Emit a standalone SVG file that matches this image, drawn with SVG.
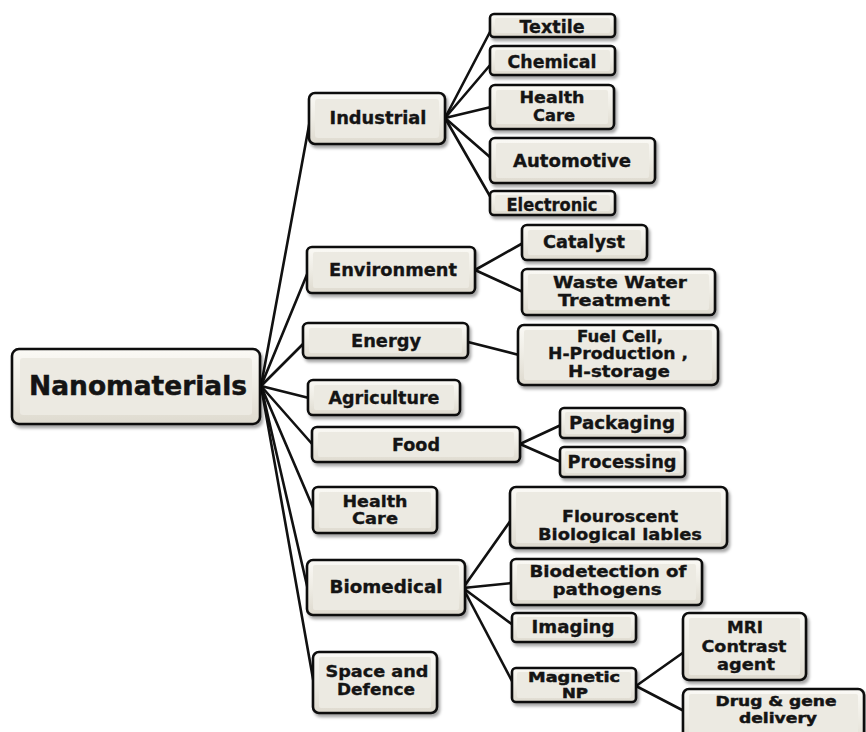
<svg xmlns="http://www.w3.org/2000/svg" width="866" height="732" viewBox="0 0 866 732">
<defs>
<linearGradient id="bg" x1="0" y1="0" x2="0" y2="1">
<stop offset="0" stop-color="#FBFAF6"/>
<stop offset="0.5" stop-color="#EEECE4"/>
<stop offset="1" stop-color="#DEDACF"/>
</linearGradient>
<filter id="sh" x="-10%" y="-20%" width="130%" height="150%">
<feDropShadow dx="2" dy="3" stdDeviation="1.8" flood-color="#000" flood-opacity="0.35"/>
</filter>
<style>
.box{fill:url(#bg);stroke:#111;stroke-width:2.6;filter:url(#sh)}
.inner{fill:#ECEAE2;stroke:none}
.t{font-family:"DejaVu Sans","Liberation Sans",sans-serif;font-weight:bold;font-size:18px;fill:#141414;stroke:#141414;stroke-width:0.35;text-anchor:middle}
.m{font-size:16.5px}
.s{font-size:14.5px;stroke-width:0.5}
.big{font-size:27px;stroke-width:0.5}
.c line{stroke:#111;stroke-width:2.6;stroke-linecap:round}
</style>
</defs>
<rect width="866" height="732" fill="#fff"/>
<g class="c" id="connectors">
<line x1="261" y1="386" x2="310" y2="120"/>
<line x1="261" y1="386" x2="308" y2="272"/>
<line x1="261" y1="386" x2="304" y2="343"/>
<line x1="261" y1="386" x2="309" y2="398"/>
<line x1="261" y1="386" x2="313" y2="445"/>
<line x1="261" y1="386" x2="314" y2="510"/>
<line x1="261" y1="386" x2="308" y2="590"/>
<line x1="261" y1="386" x2="315" y2="690"/>
<line x1="445" y1="118" x2="491" y2="30"/>
<line x1="445" y1="118" x2="491" y2="64"/>
<line x1="445" y1="118" x2="491" y2="107"/>
<line x1="445" y1="118" x2="491" y2="158"/>
<line x1="445" y1="118" x2="491" y2="198"/>
<line x1="475" y1="270" x2="523" y2="243"/>
<line x1="475" y1="270" x2="523" y2="292"/>
<line x1="468" y1="342" x2="519" y2="355"/>
<line x1="520" y1="444" x2="561" y2="425"/>
<line x1="520" y1="444" x2="561" y2="462"/>
<line x1="463" y1="588" x2="511" y2="520"/>
<line x1="463" y1="588" x2="512" y2="583"/>
<line x1="463" y1="588" x2="513" y2="625"/>
<line x1="463" y1="588" x2="513" y2="683"/>
<line x1="636" y1="686" x2="684" y2="652"/>
<line x1="636" y1="686" x2="684" y2="711"/>
</g>
<g id="nanomaterials"><rect class="box" x="12" y="349" width="248" height="75" rx="7"/><rect class="inner" x="20" y="358" width="232" height="57" rx="3"/><text class="t big" x="138" y="395" textLength="218" lengthAdjust="spacingAndGlyphs">Nanomaterials</text></g>
<g id="industrial"><rect class="box" x="309" y="93" width="136" height="51" rx="6"/><rect class="inner" x="315" y="99" width="124" height="39" rx="3"/><text class="t" x="378" y="124" textLength="97" lengthAdjust="spacingAndGlyphs">Industrial</text></g>
<g id="textile"><rect class="box" x="490" y="14" width="125" height="23" rx="4"/><rect class="inner" x="495" y="18" width="115" height="15" rx="2"/><text class="t" x="552" y="33" textLength="65" lengthAdjust="spacingAndGlyphs">Textile</text></g>
<g id="chemical"><rect class="box" x="490" y="46" width="125" height="29" rx="4"/><rect class="inner" x="495" y="50" width="115" height="21" rx="2"/><text class="t" x="552" y="68" textLength="89" lengthAdjust="spacingAndGlyphs">Chemical</text></g>
<g id="healthcare1"><rect class="box" x="490" y="85" width="124" height="44" rx="5"/><rect class="inner" x="496" y="90" width="112" height="34" rx="2"/><text class="t m" x="552" y="103" textLength="65" lengthAdjust="spacingAndGlyphs">Health</text><text class="t m" x="554" y="121" textLength="42" lengthAdjust="spacingAndGlyphs">Care</text></g>
<g id="automotive"><rect class="box" x="490" y="138" width="165" height="45" rx="5"/><rect class="inner" x="496" y="143" width="153" height="35" rx="2"/><text class="t" x="572" y="167" textLength="118" lengthAdjust="spacingAndGlyphs">Automotive</text></g>
<g id="electronic"><rect class="box" x="490" y="191" width="125" height="24" rx="4"/><rect class="inner" x="495" y="195" width="115" height="16" rx="2"/><text class="t" x="552" y="211" textLength="91" lengthAdjust="spacingAndGlyphs">Electronic</text></g>
<g id="environment"><rect class="box" x="307" y="247" width="168" height="46" rx="5"/><rect class="inner" x="313" y="252" width="156" height="36" rx="2"/><text class="t" x="393" y="276" textLength="128" lengthAdjust="spacingAndGlyphs">Environment</text></g>
<g id="catalyst"><rect class="box" x="522" y="225" width="125" height="35" rx="5"/><rect class="inner" x="528" y="230" width="113" height="25" rx="2"/><text class="t" x="584" y="248" textLength="82" lengthAdjust="spacingAndGlyphs">Catalyst</text></g>
<g id="wastewater"><rect class="box" x="522" y="269" width="193" height="46" rx="5"/><rect class="inner" x="528" y="274" width="181" height="36" rx="2"/><text class="t m" x="620" y="288" textLength="134" lengthAdjust="spacingAndGlyphs">Waste Water</text><text class="t m" x="614" y="306" textLength="112" lengthAdjust="spacingAndGlyphs">Treatment</text></g>
<g id="energy"><rect class="box" x="303" y="323" width="165" height="35" rx="5"/><rect class="inner" x="309" y="328" width="153" height="25" rx="2"/><text class="t" x="386" y="347" textLength="70" lengthAdjust="spacingAndGlyphs">Energy</text></g>
<g id="fuelcell"><rect class="box" x="518" y="325" width="200" height="60" rx="6"/><rect class="inner" x="524" y="330" width="188" height="50" rx="2"/><text class="t m" x="620" y="342" textLength="86" lengthAdjust="spacingAndGlyphs">Fuel Cell,</text><text class="t m" x="618" y="359" textLength="140" lengthAdjust="spacingAndGlyphs">H-Production ,</text><text class="t m" x="619" y="377" textLength="102" lengthAdjust="spacingAndGlyphs">H-storage</text></g>
<g id="agriculture"><rect class="box" x="308" y="380" width="152" height="35" rx="5"/><rect class="inner" x="314" y="385" width="140" height="25" rx="2"/><text class="t" x="384" y="404" textLength="111" lengthAdjust="spacingAndGlyphs">Agriculture</text></g>
<g id="food"><rect class="box" x="312" y="427" width="208" height="35" rx="5"/><rect class="inner" x="318" y="432" width="196" height="25" rx="2"/><text class="t" x="416" y="451" textLength="48" lengthAdjust="spacingAndGlyphs">Food</text></g>
<g id="packaging"><rect class="box" x="560" y="408" width="125" height="30" rx="4"/><rect class="inner" x="565" y="412" width="115" height="22" rx="2"/><text class="t" x="622" y="429" textLength="106" lengthAdjust="spacingAndGlyphs">Packaging</text></g>
<g id="processing"><rect class="box" x="560" y="447" width="125" height="30" rx="4"/><rect class="inner" x="565" y="451" width="115" height="22" rx="2"/><text class="t" x="622" y="468" textLength="109" lengthAdjust="spacingAndGlyphs">Processing</text></g>
<g id="healthcare2"><rect class="box" x="313" y="487" width="124" height="46" rx="5"/><rect class="inner" x="319" y="492" width="112" height="36" rx="2"/><text class="t m" x="375" y="507" textLength="65" lengthAdjust="spacingAndGlyphs">Health</text><text class="t m" x="375" y="524" textLength="46" lengthAdjust="spacingAndGlyphs">Care</text></g>
<g id="flouroscent"><rect class="box" x="510" y="487" width="217" height="61" rx="6"/><rect class="inner" x="516" y="492" width="205" height="51" rx="2"/><text class="t m" x="620" y="522" textLength="116" lengthAdjust="spacingAndGlyphs">Flouroscent</text><text class="t m" x="620" y="540" textLength="164" lengthAdjust="spacingAndGlyphs">Biological lables</text></g>
<g id="biomedical"><rect class="box" x="307" y="560" width="158" height="55" rx="6"/><rect class="inner" x="313" y="565" width="146" height="45" rx="2"/><text class="t" x="386" y="593" textLength="113" lengthAdjust="spacingAndGlyphs">Biomedical</text></g>
<g id="biodetection"><rect class="box" x="511" y="559" width="191" height="46" rx="5"/><rect class="inner" x="517" y="564" width="179" height="36" rx="2"/><text class="t m" x="608" y="577" textLength="157" lengthAdjust="spacingAndGlyphs">Biodetection  of</text><text class="t m" x="607" y="595" textLength="109" lengthAdjust="spacingAndGlyphs">pathogens</text></g>
<g id="imaging"><rect class="box" x="512" y="613" width="124" height="29" rx="4"/><rect class="inner" x="517" y="617" width="114" height="21" rx="2"/><text class="t" x="573" y="633" textLength="83" lengthAdjust="spacingAndGlyphs">Imaging</text></g>
<g id="magneticnp"><rect class="box" x="512" y="668" width="124" height="34" rx="4"/><rect class="inner" x="517" y="672" width="114" height="26" rx="2"/><text class="t s" x="574" y="682" textLength="92" lengthAdjust="spacingAndGlyphs">Magnetic</text><text class="t s" x="575" y="698" textLength="26" lengthAdjust="spacingAndGlyphs">NP</text></g>
<g id="mri"><rect class="box" x="683" y="613" width="123" height="67" rx="6"/><rect class="inner" x="689" y="618" width="111" height="57" rx="2"/><text class="t m" x="745" y="633" textLength="36" lengthAdjust="spacingAndGlyphs">MRI</text><text class="t m" x="744" y="652" textLength="85" lengthAdjust="spacingAndGlyphs">Contrast</text><text class="t m" x="746" y="670" textLength="58" lengthAdjust="spacingAndGlyphs">agent</text></g>
<g id="drug"><rect class="box" x="683" y="689" width="181" height="60" rx="6"/><rect class="inner" x="689" y="694" width="169" height="50" rx="2"/><text class="t s" x="776" y="706" textLength="121" lengthAdjust="spacingAndGlyphs">Drug &amp; gene</text><text class="t s" x="778" y="723" textLength="78" lengthAdjust="spacingAndGlyphs">delivery</text></g>
<g id="space"><rect class="box" x="313" y="652" width="124" height="61" rx="6"/><rect class="inner" x="319" y="657" width="112" height="51" rx="2"/><text class="t m" x="377" y="677" textLength="103" lengthAdjust="spacingAndGlyphs">Space and</text><text class="t m" x="376" y="695" textLength="78" lengthAdjust="spacingAndGlyphs">Defence</text></g>
</svg>
